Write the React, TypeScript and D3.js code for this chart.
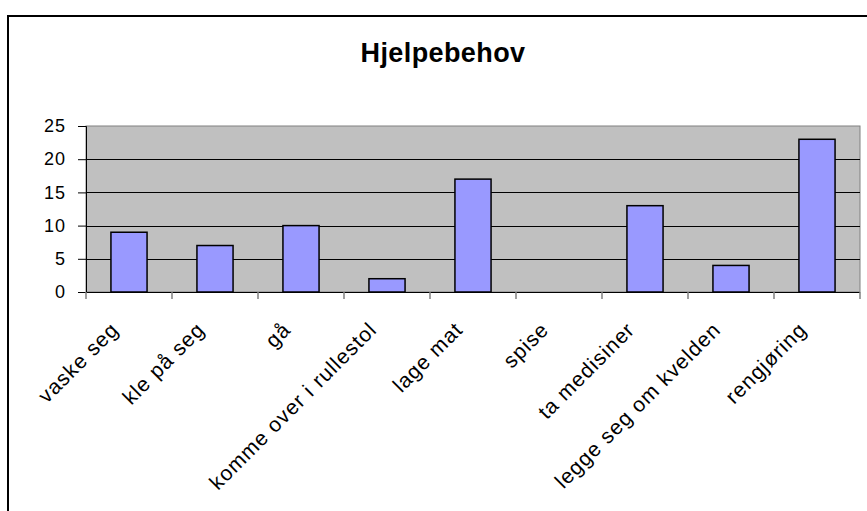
import React, { useEffect, useRef } from 'react';
import * as d3 from 'd3';

// chart data
const categories = [
  'vaske seg',
  'kle på seg',
  'gå',
  'komme over i rullestol',
  'lage mat',
  'spise',
  'ta medisiner',
  'legge seg om kvelden',
  'rengjøring',
];
const values = [9, 7, 10, 2, 17, 0, 13, 4, 23];
const yTicks = [0, 5, 10, 15, 20, 25];
const chartTitle = 'Hjelpebehov';

const FONT = '"Liberation Sans", Arial, sans-serif';

export default function App() {
  const svgRef = useRef<SVGSVGElement>(null);

  useEffect(() => {
    const width = 867, height = 511;
    const plot = { left: 86, right: 860, top: 126, bottom: 292 };

    const svg = d3.select(svgRef.current)
      .attr('width', width)
      .attr('height', height)
      .attr('viewBox', `0 0 ${width} ${height}`);
    svg.selectAll('*').remove();

    // white background + outer chart border (runs off the right / bottom edge)
    svg.append('rect')
      .attr('width', width).attr('height', height)
      .attr('fill', '#fff');
    svg.append('rect')
      .attr('x', 8).attr('y', 16)
      .attr('width', width + 40).attr('height', height + 40)
      .attr('fill', 'none')
      .attr('stroke', '#000')
      .attr('stroke-width', 2);

    // title
    svg.append('text')
      .attr('x', 443)
      .attr('y', 62)
      .attr('text-anchor', 'middle')
      .attr('font-family', FONT)
      .attr('font-weight', 'bold')
      .attr('font-size', '27px')
      .attr('letter-spacing', '0.4px')
      .attr('fill', '#000')
      .text(chartTitle);

    // scales
    const x = d3.scaleBand<string>()
      .domain(categories)
      .range([plot.left, plot.right])
      .paddingInner(0.58)
      .paddingOuter(0.29);

    const y = d3.scaleLinear()
      .domain([0, 25])
      .range([plot.bottom, plot.top]);

    // plot area
    svg.append('rect')
      .attr('x', plot.left)
      .attr('y', plot.top)
      .attr('width', plot.right - plot.left)
      .attr('height', plot.bottom - plot.top)
      .attr('fill', '#c0c0c0')
      .attr('stroke', '#808080')
      .attr('stroke-width', 1);

    // gridlines
    svg.append('g')
      .selectAll('line')
      .data(yTicks.filter(t => t > 0 && t < 25))
      .join('line')
        .attr('x1', plot.left)
        .attr('x2', plot.right)
        .attr('y1', d => Math.round(y(d)) + 0.5)
        .attr('y2', d => Math.round(y(d)) + 0.5)
        .attr('stroke', '#000')
        .attr('stroke-width', 1);

    // bars
    svg.append('g')
      .selectAll('rect')
      .data(values)
      .join('rect')
        .attr('x', (d, i) => x(categories[i])!)
        .attr('y', d => y(d))
        .attr('width', x.bandwidth())
        .attr('height', d => y(0) - y(d))
        .attr('fill', '#9999ff')
        .attr('stroke', '#000')
        .attr('stroke-width', d => (d > 0 ? 1.5 : 0));

    // y axis
    const yAxis = svg.append('g')
      .attr('transform', `translate(${plot.left},0)`)
      .call(d3.axisLeft(y).tickValues(yTicks).tickSize(8).tickPadding(12));
    yAxis.select('.domain').attr('stroke', '#000');
    yAxis.selectAll('line').attr('stroke', '#000');
    yAxis.selectAll('text')
      .attr('font-family', FONT)
      .attr('font-size', '18px')
      .attr('letter-spacing', '1px')
      .attr('fill', '#000');

    // x axis baseline + tick marks at category boundaries
    svg.append('line')
      .attr('x1', plot.left).attr('x2', plot.right)
      .attr('y1', plot.bottom + 0.5).attr('y2', plot.bottom + 0.5)
      .attr('stroke', '#000');
    const step = x.step();
    svg.append('g')
      .selectAll('line')
      .data(d3.range(categories.length + 1))
      .join('line')
        .attr('x1', i => plot.left + i * step)
        .attr('x2', i => plot.left + i * step)
        .attr('y1', plot.bottom)
        .attr('y2', plot.bottom + 7)
        .attr('stroke', '#808080')
        .attr('stroke-width', 1.5);

    // rotated category labels
    svg.append('g')
      .selectAll('text')
      .data(categories)
      .join('text')
        .attr('transform', d => `translate(${x(d)! + x.bandwidth() / 2 - 9},331) rotate(-45)`)
        .attr('text-anchor', 'end')
        .attr('font-family', FONT)
        .attr('font-size', '21px')
        .attr('letter-spacing', '1px')
        .attr('fill', '#000')
        .text(d => d);
  }, []);

  return (
    <div style={{ position: 'absolute', left: 0, top: 0, width: 867, height: 511 }}>
      <svg ref={svgRef} style={{ display: 'block' }} />
    </div>
  );
}
